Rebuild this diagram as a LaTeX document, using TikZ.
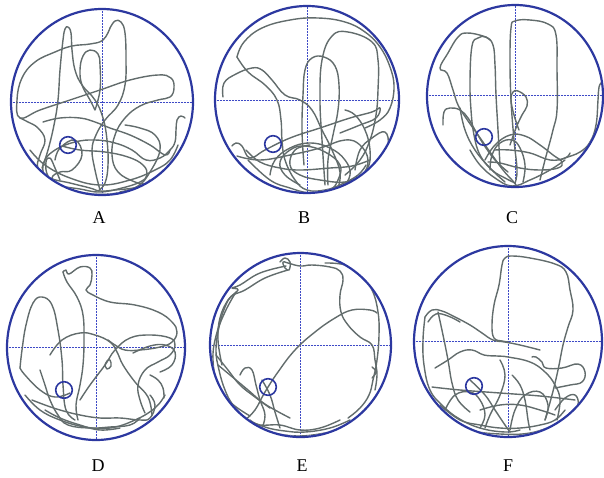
\documentclass[tikz,border=0pt]{standalone}
\usepackage{fontspec}
\setmainfont{Liberation Serif}
\definecolor{wallblue}{RGB}{44,56,160}
\definecolor{crossblue}{RGB}{62,74,198}
\definecolor{trackgray}{RGB}{98,108,108}
\tikzset{
  wall/.style={draw=wallblue, line width=2.2pt},
  cross/.style={draw=crossblue, line width=1pt, dash pattern=on 1pt off 0.5pt},
  track/.style={draw=trackgray, line width=1.4pt, line join=round, line cap=round},
  plat/.style={draw=wallblue, line width=1.6pt},
  lab/.style={inner sep=0pt, font=\fontsize{18}{20}\selectfont}
}
\newcommand{\arena}[4]{%
  \draw[cross] (#1-#3,#2) -- (#1+#3,#2);
  \draw[cross] (#1,#2-#4) -- (#1,#2+#4);
}
\newcommand{\arenaclip}[4]{%
  \clip (#1,#2) ellipse [x radius=#3pt, y radius=#4pt];
}
\newcommand{\arenawall}[4]{%
  \draw[wall] (#1,#2) ellipse [x radius=#3pt, y radius=#4pt];
}
\newcommand{\trk}[1]{\draw[track] plot[smooth,tension=0.7] coordinates {#1};}
\begin{document}
\begin{tikzpicture}[x=1pt,y=-1pt]
\useasboundingbox (0,0) rectangle (604,477);
% ---------- crosshairs ----------
\arena{102}{102}{91}{93}
\arena{307}{100}{92}{93.5}
\arena{515}{95}{88}{91}
\arena{96}{347.5}{89}{92.5}
\arena{300.5}{345}{90.5}{92}
\arena{508}{341.5}{94}{95.5}
% ---------- A ----------
\begin{scope}
\arenaclip{102}{102}{90}{92}
\trk{(110,28) (103,40) (90,44) (72,46) (55,52) (35,62) (22,78) (17,100) (20,118) (40,110) (70,100) (100,90) (130,80) (158,75) (171,78) (174,88) (170,97) (158,100) (140,106) (125,118) (115,135) (112,155) (118,172) (135,182) (146,184)}
\trk{(110,28) (115,21) (121,22) (125,33) (126,60) (125,85) (118,105) (105,120) (96,135) (92,150) (95,170) (100,190)}
\trk{(42,168) (48,150) (54,125) (58,100) (60,70) (63,40) (65,29) (68,27) (71,33) (72,50) (75,70) (82,85) (95,100) (103,118) (107,140) (108,165) (105,183) (98,191)}
\trk{(95,110) (100,90) (100,65) (98,54) (90,50) (83,56) (80,70) (82,85) (90,100) (95,110)}
\trk{(20,118) (28,122) (38,128) (45,140) (40,155) (38,168) (50,178) (70,183) (90,188) (100,191) (115,190) (138,187) (150,180)}
\trk{(43,122) (60,118) (80,118) (95,122) (110,128) (130,135) (150,145) (165,155) (170,150)}
\trk{(185,118) (181,116) (177,120) (176,130) (175,142) (170,150) (160,158) (146,160) (132,150) (115,143) (95,140) (75,142) (55,150) (44,162) (45,176) (58,185) (80,189) (100,192) (122,188) (140,182) (147,175) (143,165) (128,157) (105,152) (80,150) (62,146)}
\trk{(60,180) (55,168) (50,158) (46,162) (48,176) (60,186) (85,193) (110,194) (135,189)}
\trk{(30,150) (45,165) (70,178) (100,185) (130,180) (155,170) (170,160) (178,145)}
\trk{(125,125) (140,128) (155,135) (160,150) (150,172) (138,186) (120,192)}
\trk{(55,160) (60,148) (75,140) (82,155) (72,170) (60,172) (52,178) (58,188)}
\end{scope}
% ---------- B ----------
\begin{scope}
\arenaclip{307}{99.5}{91}{92.5}
\trk{(237,57) (244,42) (262,28) (290,20) (318,18) (345,22) (365,32) (380,47) (390,67) (394,87) (390,108) (380,120) (365,128)}
\trk{(237,57) (248,72) (265,85) (277,100) (281,120) (282,140) (285,160) (295,180) (307,190) (325,190) (342,184) (358,175) (366,165)}
\trk{(223,97) (224,83) (236,74) (252,68) (262,70) (272,80) (285,95) (300,100) (312,110) (322,130) (332,150) (340,172) (338,188)}
\trk{(304,165) (302,130) (303,95) (305,70) (312,58) (324,57) (335,66) (339,85) (338,110) (333,135) (328,160) (328,185)}
\trk{(325,185) (322,140) (320,100) (322,60) (332,36) (348,32) (372,42) (378,60) (378,90) (376,115) (370,140) (360,160) (345,175)}
\trk{(232,146) (236,143) (242,146) (250,158) (265,150) (290,138) (320,128) (350,118) (372,112) (380,108) (376,118) (360,125) (340,133)}
\trk{(237,156) (260,160) (290,155) (320,148) (345,140) (360,145) (368,160) (362,175) (345,182) (320,180) (300,175) (290,165) (295,150) (310,145)}
\trk{(300,185) (285,175) (280,162) (290,150) (305,146) (325,152) (340,165) (338,180) (330,190) (315,193)}
\trk{(345,110) (355,115) (365,130) (370,150) (368,168) (358,180)}
\trk{(246,150) (260,162) (280,168) (300,170) (330,168) (352,166) (370,160)}
\trk{(270,175) (275,160) (290,148) (310,143) (330,148) (345,160) (350,175) (340,188) (320,192)}
\trk{(355,170) (360,150) (372,138) (385,132) (388,146) (380,160) (365,172)}
\trk{(248,160) (270,180) (290,188) (310,193) (330,191)}
\end{scope}
% ---------- C ----------
\begin{scope}
\arenaclip{515}{96}{87}{90}
\trk{(540,180) (545,160) (553,130) (557,110) (557,70) (556,35) (548,24) (530,20) (515,21) (511,28) (510,60) (511,100) (514,140) (517,170) (515,183)}
\trk{(500,165) (498,130) (496,95) (495,65) (493,45) (486,37) (478,38) (472,46) (470,80) (471,110) (474,135) (480,155) (492,170) (505,178) (515,183)}
\trk{(490,40) (483,36) (467,33) (458,37) (448,53) (440,68) (447,73) (453,90) (458,105) (466,118) (478,135) (490,152) (503,170) (512,180) (516,185)}
\trk{(443,125) (444,112) (450,108) (460,110) (468,118) (475,130) (484,145) (495,160) (508,172)}
\trk{(519,130) (514,115) (511,100) (513,92) (518,91) (526,97) (527,106) (522,115) (516,128) (510,145)}
\trk{(485,160) (495,145) (510,135) (525,136) (540,145) (553,155) (562,162) (558,168) (540,170) (520,168) (500,163) (488,162)}
\trk{(490,170) (492,155) (500,143) (512,140) (520,148) (525,165) (523,182)}
\trk{(602,82) (599,87) (598,100) (596,125) (590,142) (580,152) (565,158) (560,160)}
\trk{(495,150) (510,150) (530,153) (550,160) (565,158) (570,153)}
\trk{(470,150) (480,165) (495,178) (512,186) (530,180) (550,170) (565,160)}
\trk{(460,108) (465,130) (475,150) (490,168) (505,182)}
\end{scope}
% ---------- D ----------
\begin{scope}
\arenaclip{96}{347.5}{88}{91.5}
\trk{(63,272) (66,270) (69,274) (80,267) (90,268) (92,275) (90,285) (86,290) (93,295) (110,302) (135,305) (158,312) (172,322) (177,332) (172,342) (160,347) (140,350) (125,350) (115,345) (108,340)}
\trk{(63,272) (67,282) (77,297) (83,315) (84,340) (83,365) (80,385) (76,405) (78,420)}
\trk{(20,368) (22,350) (26,325) (33,303) (42,297) (52,305) (58,330) (62,360) (63,385) (66,410) (75,420)}
\trk{(50,355) (62,340) (80,333) (95,335) (110,342) (117,352) (123,365) (135,382) (148,397) (152,415)}
\trk{(80,400) (90,385) (105,365) (115,350) (130,338) (150,335) (170,338) (175,345) (170,355) (158,362) (145,370) (138,385) (140,400) (145,413)}
\trk{(150,375) (158,380) (163,388) (164,398)}
\trk{(105,365) (107,361) (110,360) (111,366) (107,369) (105,365)}
\trk{(32,400) (45,405) (60,410) (80,415) (100,418) (120,418) (140,420) (150,418) (155,405) (150,395)}
\trk{(40,370) (45,385) (50,400) (58,415) (68,425) (90,428) (110,427) (130,425) (140,418)}
\trk{(20,368) (25,375) (40,390) (55,397) (70,393)}
\trk{(45,410) (60,418) (80,425) (100,430) (120,428)}
\trk{(25,395) (40,410) (60,420) (85,427) (110,428) (135,420) (155,408) (165,395)}
\trk{(133,353) (150,346) (165,345) (175,352) (172,365) (160,372)}
\end{scope}
% ---------- E ----------
\begin{scope}
\arenaclip{300.5}{345}{89.5}{91}
\trk{(280,262) (285,258) (290,262) (289,270) (285,268) (283,262) (288,263) (300,266) (312,265) (330,267) (340,271) (343,280) (340,295) (341,312) (348,325) (360,337) (372,345) (375,360) (377,375) (375,390)}
\trk{(325,263) (345,265) (360,275) (372,290) (378,312) (379,335) (377,360) (373,380) (369,395) (360,408) (348,418)}
\trk{(377,313) (370,310) (352,310) (335,318) (315,332) (295,350) (278,372) (265,392) (255,410) (245,420)}
\trk{(288,270) (265,278) (245,290) (232,296) (225,307) (219,327) (216,350) (219,370) (225,390) (233,405) (245,418) (265,427) (285,431) (305,432) (330,428) (350,420)}
\trk{(286,266) (260,273) (240,285) (232,288) (238,290) (228,300) (220,318) (218,340) (222,365)}
\trk{(218,365) (230,375) (248,390) (262,402) (275,410) (290,418)}
\trk{(216,355) (228,370) (240,385) (255,397) (270,408)}
\trk{(240,375) (245,368) (252,370) (256,385) (260,400) (265,415) (262,428)}
\trk{(262,380) (270,395) (275,412) (280,428)}
\trk{(250,420) (260,425) (280,425) (300,430) (320,428) (340,420)}
\trk{(372,367) (376,372) (372,378)}
\trk{(236,292) (225,312) (216,336) (213,360) (218,385) (230,402) (250,416)}
\trk{(245,422) (270,432) (300,436) (330,432)}
\end{scope}
% ---------- F ----------
\begin{scope}
\arenaclip{508}{341.5}{93}{94.5}
\trk{(545,420) (552,395) (558,370) (563,345) (568,327) (573,310) (570,290) (566,272) (555,264) (530,258) (512,256) (505,258) (502,265) (499,285) (494,305) (492,325) (494,338) (502,341) (508,342)}
\trk{(425,317) (432,310) (442,311) (455,317) (470,325) (482,333) (493,340) (505,342) (520,345) (540,350)}
\trk{(425,317) (423,340) (424,365) (430,390) (442,405) (458,418) (480,428) (505,432) (520,430)}
\trk{(438,312) (443,335) (448,360) (452,383) (458,400) (470,412)}
\trk{(532,357) (536,357) (542,362) (546,368) (562,368) (578,364) (585,372) (582,382) (570,385) (555,388)}
\trk{(435,368) (448,360) (460,352) (472,350) (484,355) (497,356) (508,357) (530,362) (545,372) (555,385) (560,400) (557,420)}
\trk{(432,387) (460,390) (500,393) (540,396) (575,400)}
\trk{(440,405) (460,420) (480,425) (500,428) (520,428) (540,425) (555,420) (565,410)}
\trk{(470,380) (485,395) (495,410) (505,425) (510,432)}
\trk{(512,375) (520,385) (525,400) (528,420) (530,430)}
\trk{(480,410) (500,405) (520,405) (540,410) (555,415)}
\trk{(500,360) (505,375) (500,395) (490,415) (485,428)}
\trk{(445,410) (455,395) (470,392) (480,400) (485,415) (480,428)}
\trk{(510,430) (515,410) (525,395) (540,392) (548,405) (545,420)}
\trk{(555,410) (565,398) (575,395) (578,405) (570,415)}
\trk{(430,400) (445,418) (470,430) (500,434) (530,433) (555,425)}
\trk{(428,322) (436,314) (448,316) (460,322)}
\end{scope}
% ---------- walls ----------
\arenawall{102}{102}{91}{93}
\arenawall{307}{99.5}{92}{93.5}
\arenawall{515}{96}{88}{91}
\arenawall{96}{347.5}{89}{92.5}
\arenawall{300.5}{345}{90.5}{92}
\arenawall{508}{341.5}{94}{95.5}
% ---------- platforms ----------
\draw[plat] (68,145) circle (8.3pt);
\draw[plat] (273,144) circle (8.3pt);
\draw[plat] (484,137) circle (8.3pt);
\draw[plat] (64,390) circle (8.3pt);
\draw[plat] (268,387) circle (8.3pt);
\draw[plat] (474,386) circle (8.3pt);
% ---------- labels ----------
\node[lab] (lA) at (99,218) {A};
\node[lab] (lB) at (304,218) {B};
\node[lab] (lC) at (512,218) {C};
\node[lab] (lD) at (98,466) {D};
\node[lab] (lE) at (302,466) {E};
\node[lab] (lF) at (508,466) {F};
\end{tikzpicture}
\end{document}
